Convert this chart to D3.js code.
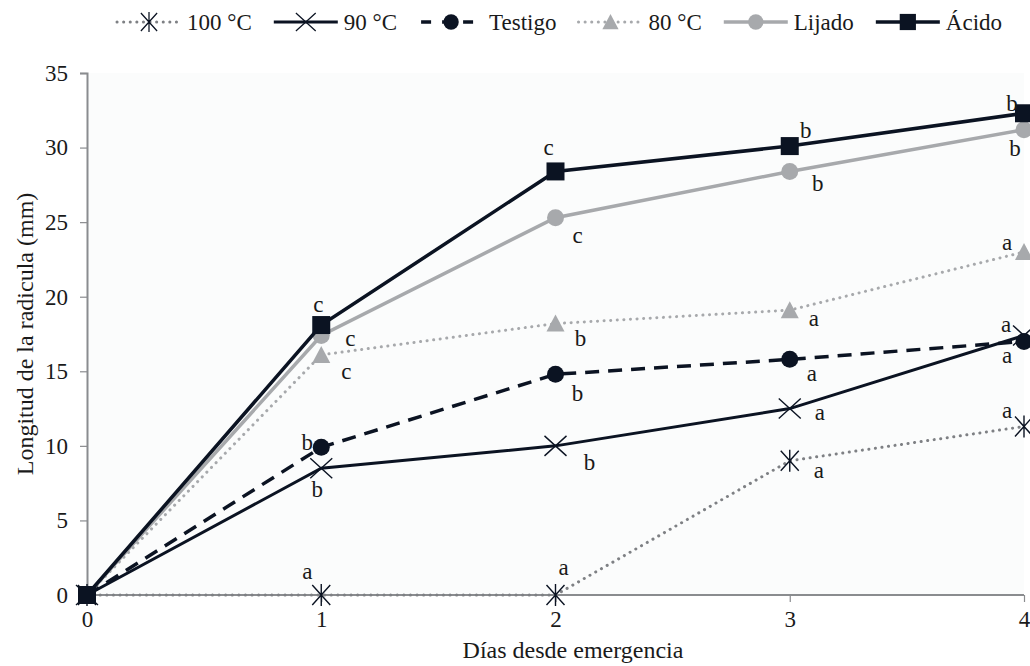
<!DOCTYPE html>
<html>
<head>
<meta charset="utf-8">
<script src="https://cdn.jsdelivr.net/npm/d3@7"></script>
<style>
  body { margin: 0; background: #fff; }
  svg text { font-family: "Liberation Serif", "Times New Roman", serif; fill: #1a1a1a; }
</style>
</head>
<body>
<div id="chart"></div>
<script>
// Data
const days = [0, 1, 2, 3, 4];
const seriesNames = ["100 °C", "90 °C", "Testigo", "80 °C", "Lijado", "Ácido"];
const v100 = [0, 0, 0, 9.0, 11.3];
const v90 = [0, 8.5, 10.0, 12.5, 17.4];
const vTestigo = [0, 9.9, 14.8, 15.8, 17.0];
const v80 = [0, 16.1, 18.2, 19.1, 23.0];
const vLijado = [0, 17.4, 25.3, 28.4, 31.2];
const vAcido = [0, 18.1, 28.4, 30.1, 32.3];
// significance letters (day 0 has none)
const l100 = ["", "a", "a", "a", "a"];
const l90 = ["", "b", "b", "a", "a"];
const lTestigo = ["", "b", "b", "a", "a"];
const l80 = ["", "c", "b", "a", "a"];
const lLijado = ["", "c", "c", "b", "b"];
const lAcido = ["", "c", "c", "b", "b"];
const yTicks = [0, 5, 10, 15, 20, 25, 30, 35];

const W = 1030, H = 666;
const margin = { top: 73, right: 6, bottom: 71, left: 87 };
const width = W - margin.left - margin.right;
const height = H - margin.top - margin.bottom;
const serif = "'Liberation Serif', 'Times New Roman', serif";

const svg = d3.select("#chart").append("svg")
  .attr("width", W).attr("height", H)
  .attr("font-family", serif);

const g = svg.append("g").attr("transform", `translate(${margin.left},${margin.top})`);

const x = d3.scaleLinear().domain([0, 4]).range([0, 937]);
const y = d3.scaleLinear().domain([0, 35]).range([height, 0]);

const dark = "#0b1322", gray = "#a7a9ac", dotGray = "#7e8084";

// plot background
g.append("rect").attr("x", 0).attr("y", 0).attr("width", width).attr("height", height)
  .attr("fill", "#fbfcfc");

// axes
const yAxis = g.append("g").call(d3.axisLeft(y).tickValues(yTicks).tickSize(7).tickPadding(12));
const xAxis = g.append("g").attr("transform", `translate(0,${height})`)
  .call(d3.axisBottom(x).tickValues(days).tickSize(7).tickPadding(9).tickFormat(d3.format("d")));
[xAxis, yAxis].forEach(a => {
  a.attr("font-family", serif);
  a.select(".domain").attr("stroke", "#8a8c8f").attr("stroke-width", 2);
  a.selectAll(".tick line").attr("stroke", "#8a8c8f").attr("stroke-width", 1.2);
  a.selectAll(".tick text").style("font-size", "23px").attr("fill", "#1a1a1a");
});
xAxis.select(".domain").attr("d", `M0,0H${width}`);

svg.append("text").attr("transform", "rotate(-90)")
  .attr("x", -(margin.top + height / 2)).attr("y", 33)
  .attr("text-anchor", "middle").style("font-size", "24px")
  .text("Longitud de la radicula (mm)");
svg.append("text").attr("x", 573).attr("y", 658)
  .attr("text-anchor", "middle").style("font-size", "24px")
  .text("Días desde emergencia");

// series definitions (off = letter offset [dx, baseline dy] from the point)
const series = [
  { name: seriesNames[0], vals: v100, lets: l100, color: dotGray, w: 3, dash: "0.1,6.5", cap: "round", marker: "star", mcol: dark,
    off: [null, [-14, -16], [8, -20], [29, 17], [-17, -8]] },
  { name: seriesNames[1], vals: v90, lets: l90, color: dark, w: 3, dash: null, cap: "butt", marker: "x", mcol: dark,
    off: [null, [-4, 29], [34, 24], [30, 11], [-18, -3]] },
  { name: seriesNames[2], vals: vTestigo, lets: lTestigo, color: dark, w: 3.5, dash: "14,9", cap: "butt", marker: "circle", mcol: dark,
    off: [null, [-14, 3], [22, 27], [22, 22], [-17, 22]] },
  { name: seriesNames[3], vals: v80, lets: l80, color: gray, w: 3, dash: "0.1,6.5", cap: "round", marker: "tri", mcol: gray,
    off: [null, [25, 24], [25, 22], [24, 16], [-17, -2]] },
  { name: seriesNames[4], vals: vLijado, lets: lLijado, color: gray, w: 3.5, dash: null, cap: "butt", marker: "circle", mcol: gray,
    off: [null, [29, 11], [22, 25], [28, 20], [-9, 26]] },
  { name: seriesNames[5], vals: vAcido, lets: lAcido, color: dark, w: 3.5, dash: null, cap: "butt", marker: "square", mcol: dark,
    off: [null, [-3, -13], [-7, -16], [16, -8], [-12, -2]] }
];

function drawMarker(sel, type, col) {
  if (type === "square") {
    sel.append("rect").attr("x", -9).attr("y", -9).attr("width", 18).attr("height", 18).attr("fill", col);
  } else if (type === "circle") {
    sel.append("circle").attr("r", 8.5).attr("fill", col);
  } else if (type === "tri") {
    sel.append("path").attr("d", "M0,-9L9,8L-9,8Z").attr("fill", col);
  } else if (type === "x") {
    sel.append("path").attr("d", "M-11,-10L11,10M-11,10L11,-10").attr("stroke", col).attr("stroke-width", 1.4).attr("fill", "none");
  } else if (type === "star") {
    sel.append("path").attr("d", "M-9,-10L9,10M-9,10L9,-10M0,-11L0,11").attr("stroke", col).attr("stroke-width", 1.4).attr("fill", "none");
  }
}

svg.append("clipPath").attr("id", "clip").append("rect")
  .attr("x", -20).attr("y", -20).attr("width", W - margin.left + 20).attr("height", height + 40);

const plot = g.append("g").attr("clip-path", "url(#clip)");
const line = d3.line().x((d, i) => x(days[i])).y(d => y(d));

series.forEach(s => {
  plot.append("path").datum(s.vals).attr("d", line)
    .attr("fill", "none").attr("stroke", s.color).attr("stroke-width", s.w)
    .attr("stroke-dasharray", s.dash).attr("stroke-linecap", s.cap);
  s.vals.forEach((v, i) => {
    const m = plot.append("g").attr("transform", `translate(${x(days[i])},${y(v)})`);
    drawMarker(m, s.marker, s.mcol);
  });
});

// letters
series.forEach(s => {
  s.lets.forEach((l, i) => {
    if (!l) return;
    g.append("text")
      .attr("x", x(days[i]) + s.off[i][0]).attr("y", y(s.vals[i]) + s.off[i][1])
      .attr("text-anchor", "middle").style("font-size", "23px").text(l);
  });
});

// legend: laid out in a row
const lineLen = 64, textGap = 6, itemGap = 22;
const legend = svg.append("g").attr("transform", "translate(117,22)");
let cursor = 0;
series.forEach(s => {
  const lg = legend.append("g").attr("transform", `translate(${cursor},0)`);
  lg.append("line").attr("x1", 0).attr("x2", lineLen).attr("y1", 0).attr("y2", 0)
    .attr("stroke", s.color).attr("stroke-width", s.w)
    .attr("stroke-dasharray", s.dash ? (s.marker === "circle" ? "10,11" : s.dash) : null)
    .attr("stroke-dashoffset", s.marker === "circle" ? -2 : null)
    .attr("stroke-linecap", s.cap);
  const m = lg.append("g").attr("transform", `translate(${lineLen / 2},0) scale(0.9)`);
  drawMarker(m, s.marker, s.mcol);
  const t = lg.append("text").attr("x", lineLen + textGap).attr("y", 8).style("font-size", "23px").text(s.name);
  cursor += lineLen + textGap + t.node().getComputedTextLength() + itemGap;
});
</script>
</body>
</html>
